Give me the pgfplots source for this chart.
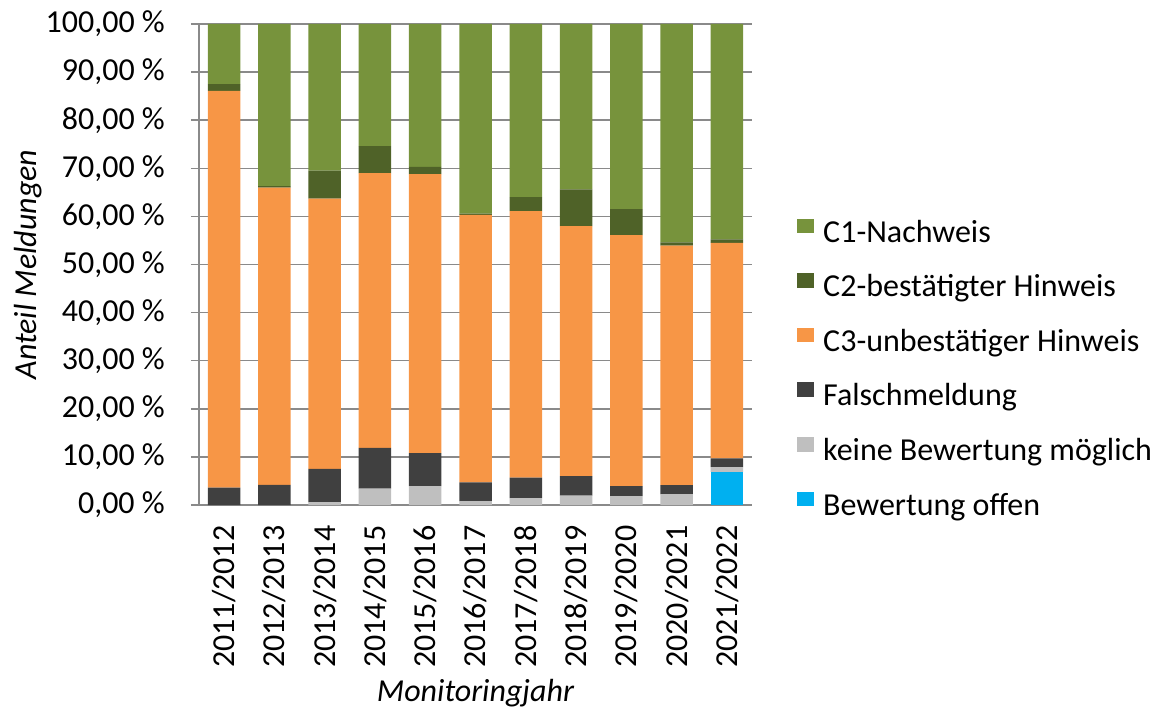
\documentclass[border=0pt]{standalone}
\usepackage{fontspec}
\setmainfont{Carlito}
\usepackage{pgfplots}
\usepackage{pgfplotstable}
\pgfplotsset{compat=1.18}
\definecolor{cone}{HTML}{77933C}
\definecolor{ctwo}{HTML}{4F6228}
\definecolor{cthree}{HTML}{F79646}
\definecolor{cfalsch}{HTML}{404040}
\definecolor{ckeine}{HTML}{BFBFBF}
\definecolor{coffen}{HTML}{00B0F0}
\definecolor{gridgray}{HTML}{8A8A8A}
\pgfplotstableread{
x offen keine falsch cthree ctwo cone
0 0    0    3.6  82.5  1.4 12.5
1 0    0    4.2  61.8  0.3 33.7
2 0    0.55 6.95 56.2  5.8 30.5
3 0    3.4  8.5  57.1  5.6 25.4
4 0    3.95 6.85 58.0  1.5 29.7
5 0    0.75 3.95 55.6  0.3 39.4
6 0    1.45 4.25 55.4  2.9 36.0
7 0    1.95 4.05 52.0  7.6 34.4
8 0    1.85 2.1  52.15 5.4 38.5
9 0    2.2  1.95 49.75 0.7 45.4
10 6.9 1.0  1.8  44.8  0.7 44.8
}\data
\begin{document}
\fontsize{32}{38}\selectfont
\begin{tikzpicture}[font=\fontsize{32}{38}\selectfont]
\useasboundingbox (0,0) rectangle (1157pt,710pt);
\begin{axis}[
  at={(199pt,205pt)}, anchor=south west,
  scale only axis, width=553pt, height=481pt,
  ybar stacked, bar width=32.5pt,
  xmin=-0.5, xmax=10.5, ymin=0, ymax=100,
  axis x line*=bottom, axis y line*=left,
  axis line style={-, draw=gridgray, line width=1.5pt},
  tick align=outside,
  major tick length=8pt,
  xtick={0,...,10},
  xticklabels={2011/2012,2012/2013,2013/2014,2014/2015,2015/2016,2016/2017,2017/2018,2018/2019,2019/2020,2020/2021,2021/2022},
  x tick label style={rotate=90, anchor=east, inner sep=0pt, xshift=-12.5pt},
  xtick style={draw=none},
  extra x ticks={-0.5,0.5,...,10.5},
  extra x tick labels={},
  extra x tick style={grid=none, major tick length=9pt, tick style={draw=gridgray, line width=1.5pt}},
  ytick={0,10,...,100},
  ytick style={draw=gridgray, line width=1.5pt},
  /pgf/number format/assume math mode=true,
  yticklabel={\pgfmathprintnumber[fixed,fixed zerofill,precision=2,use comma]{\tick}~\%},
  y tick label style={anchor=east, inner sep=0pt, xshift=-26pt},
  ymajorgrids,
  grid style={draw=gridgray, line width=1.5pt},
  xlabel={\itshape Monitoringjahr},
  xlabel style={at={(axis description cs:0.5,-0.391)}, anchor=center},
  ylabel={\itshape Anteil Meldungen},
  ylabel style={at={(axis description cs:-0.309,0.5)}, anchor=center, rotate=0},
  reverse legend,
  legend cell align=left,
  legend image code/.code={\fill[#1] (0pt,1.5pt) rectangle (17pt,16pt);},
  legend style={at={(1.0814,0.5957)}, anchor=north west, draw=none, fill=none,
    inner sep=0pt, row sep=24.1pt, column sep=9pt,
    nodes={inner sep=0pt, text height=22pt, text depth=7pt}},
]
\addplot[fill=coffen, draw=none] table[x=x, y=offen] {\data};
\addlegendentry{Bewertung offen}
\addplot[fill=ckeine, draw=none] table[x=x, y=keine] {\data};
\addlegendentry{keine Bewertung möglich}
\addplot[fill=cfalsch, draw=none] table[x=x, y=falsch] {\data};
\addlegendentry{Falschmeldung}
\addplot[fill=cthree, draw=none] table[x=x, y=cthree] {\data};
\addlegendentry{C3-unbestätiger Hinweis}
\addplot[fill=ctwo, draw=none] table[x=x, y=ctwo] {\data};
\addlegendentry{C2-bestätigter Hinweis}
\addplot[fill=cone, draw=none] table[x=x, y=cone] {\data};
\addlegendentry{C1-Nachweis}
\end{axis}
\end{tikzpicture}
\end{document}
